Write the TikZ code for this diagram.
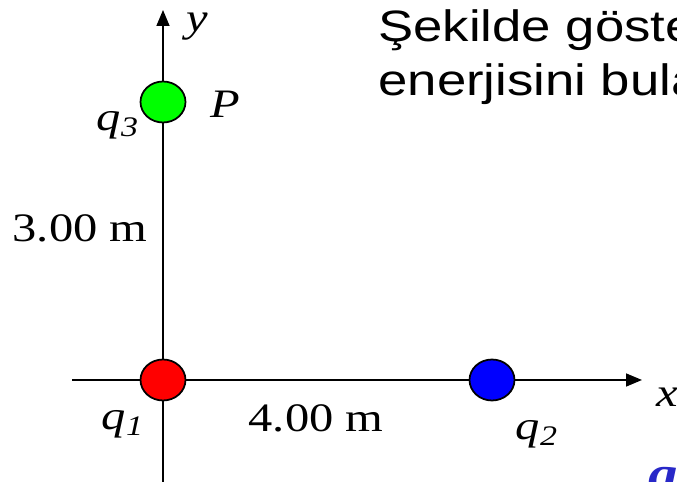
\documentclass[tikz,border=0pt]{standalone}
\usepackage{fontspec}
\setmainfont{Liberation Serif}
\newfontfamily\textsans{Liberation Sans}
\usetikzlibrary{arrows.meta, positioning, shapes.geometric}
\definecolor{cRed}{RGB}{255,0,0}
\definecolor{cBlue}{RGB}{0,0,255}
\definecolor{cGreen}{RGB}{0,255,0}
\definecolor{cLabelBlue}{RGB}{40,40,200}
\tikzset{
	axis/.style   ={-{Triangle[length=3.2mm, width=2.6mm]}, line width=0.9pt},
	charge/.style ={ellipse, draw=black, line width=1pt, minimum width=0.9cm, minimum height=0.82cm, inner sep=0pt},
	lbl/.style    ={font=\fontsize{23pt}{26pt}\selectfont, inner sep=0pt, xscale=1.2},
	task/.style   ={font=\textsans\fontsize{25pt}{31pt}\selectfont, align=left, anchor=north west, inner sep=0pt, xscale=1.2},
}
\newcommand{\qsub}[1]{\textit{q}\textsubscript{\textit{#1}}}

\begin{document}
\begin{tikzpicture}[x=0.02cm, y=-0.02cm]
	\useasboundingbox (0,0) rectangle (677,482);
	\clip (0,0) rectangle (677,482);
	% axes
	\coordinate (xl) at (72,380);
	\coordinate (xr) at (642,380);
	\coordinate (yb) at (163,482);
	\coordinate (yt) at (163,10);
	\draw[axis] (xl) -- (xr);
	\draw[axis] (yb) -- (yt);
	\node[lbl] (xlab) at (667,397) {\textit{x}};
	\node[lbl] (ylab) at (197,27) {\textit{y}};
	% charges
	\node[charge, fill=cRed] (q1) at (163,380) {};
	\node[charge, fill=cBlue] (q2) at (492,380) {};
	\node[charge, fill=cGreen] (q3) at (163,102) {};
	\node[lbl] (q1lab) at (123,424) {\qsub{1}};
	\node[lbl] (q2lab) at (537,434) {\qsub{2}};
	\node[lbl] (q3lab) at (118,125) {\qsub{3}};
	\node[lbl] (plab) at (225,104) {\textit{P}};
	% distances
	\node[lbl] (dy) at (80,228) {3.00 m};
	\node[lbl] (dx) at (316,418) {4.00 m};
	% problem text
	\node[task] (txt) at (378,9) {Şekilde göste\\enerjisini bula};
	\node[lbl, text=cLabelBlue, font=\bfseries\itshape\fontsize{28pt}{30pt}\selectfont, anchor=north west] (qcut) at (648,467) {q};
\end{tikzpicture}
\end{document}
